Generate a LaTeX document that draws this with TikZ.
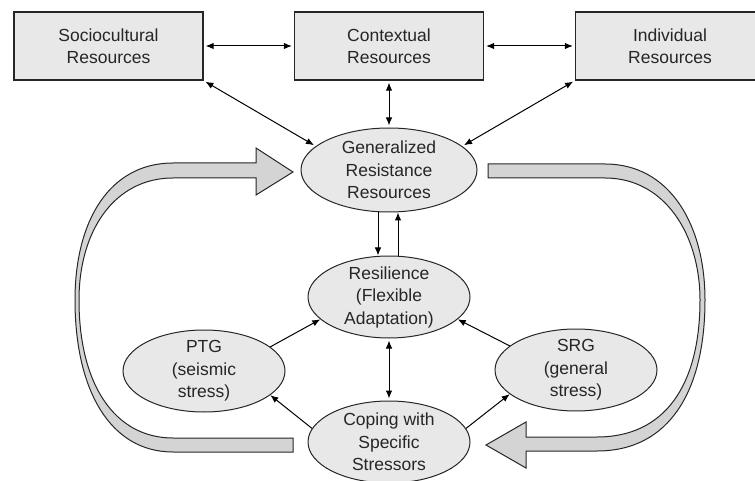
\documentclass[tikz,border=0pt]{standalone}
\usepackage{fontspec}
\setmainfont{Liberation Sans}
\usetikzlibrary{shapes.geometric,arrows.meta}

\begin{document}
\begin{tikzpicture}[x=1pt,y=-1pt,
    font=\fontsize{17.5}{22.5}\selectfont, text=black!85,
    >={Latex[length=8pt,width=6.5pt]},
    box/.style={rectangle,draw=black!85,line width=1.3pt,fill=black!9,minimum width=189pt,minimum height=68pt,align=center,inner sep=0pt},
    oval/.style={ellipse,draw=black!85,line width=1pt,fill=black!9,minimum width=162pt,minimum height=82pt,align=center,inner xsep=0pt,inner ysep=-3pt},
    bigarrow/.style={draw=black!85,line width=1pt,fill=black!17,line join=miter}]
  \useasboundingbox (0,0) rectangle (755,481);
  % the two big feedback arrows
  \path[bigarrow] (293,438) -- (173,438) .. controls (115,438) and (79,385) .. (79,300)
      .. controls (79,230) and (115,178) .. (173,178) -- (256,178) -- (256,195) -- (293,172)
      -- (256,148) -- (256,163) -- (173,163) .. controls (110,163) and (75,220) .. (75,300)
      .. controls (75,390) and (110,452) .. (173,452) -- (293,452) -- cycle;
  \path[bigarrow] (488,164) -- (605,164) .. controls (670,164) and (705,225) .. (705,300)
      .. controls (705,390) and (670,451) .. (597,451) -- (526,451) -- (526,468) -- (486,445)
      -- (526,422) -- (526,437) -- (597,437) .. controls (665,437) and (700,385) .. (700,300)
      .. controls (700,235) and (665,178) .. (605,178) -- (488,178) -- cycle;
  % resources
  \foreach \pos/\name/\txt in { {(108.5,46)/soc/Sociocultural\\Resources}, {(389,46)/ctx/Contextual\\Resources}, {(670,46)/ind/Individual\\Resources}}
    \node[box] (\name) at \pos {\txt};
  \node[oval,minimum width=176pt,minimum height=84pt] (grr) at (389,170) {Generalized\\Resistance\\Resources};
  \foreach \pos/\name/\txt in { {(389,297)/res/Resilience\\(Flexible\\Adaptation)}, {(204,371)/ptg/PTG\\(seismic\\stress)}, {(576,370)/srg/SRG\\(general\\stress)}, {(389,442)/cop/Coping with\\Specific\\Stressors}}
    \node[oval] (\name) at \pos {\txt};
  % connectors
  \foreach \source/\dest in {soc/ctx, ctx/ind, soc.south east/grr.162, ctx/grr, ind.south west/grr.18, res/cop}
    \path[draw,line width=1pt,<->,shorten <=2pt,shorten >=2pt] (\source) -- (\dest);
  \foreach \source/\dest in {ptg.20/res.198, cop.170/ptg.340, srg.160/res.342, cop.10/srg.200}
    \path[draw,line width=1pt,->] (\source) -- (\dest);
  \path[draw,line width=1pt,->] ([xshift=-11pt]grr.south) -- ([xshift=-11pt]res.north);
  \path[draw,line width=1pt,->] ([xshift=9pt]res.north) -- ([xshift=9pt]grr.south);
\end{tikzpicture}
\end{document}
